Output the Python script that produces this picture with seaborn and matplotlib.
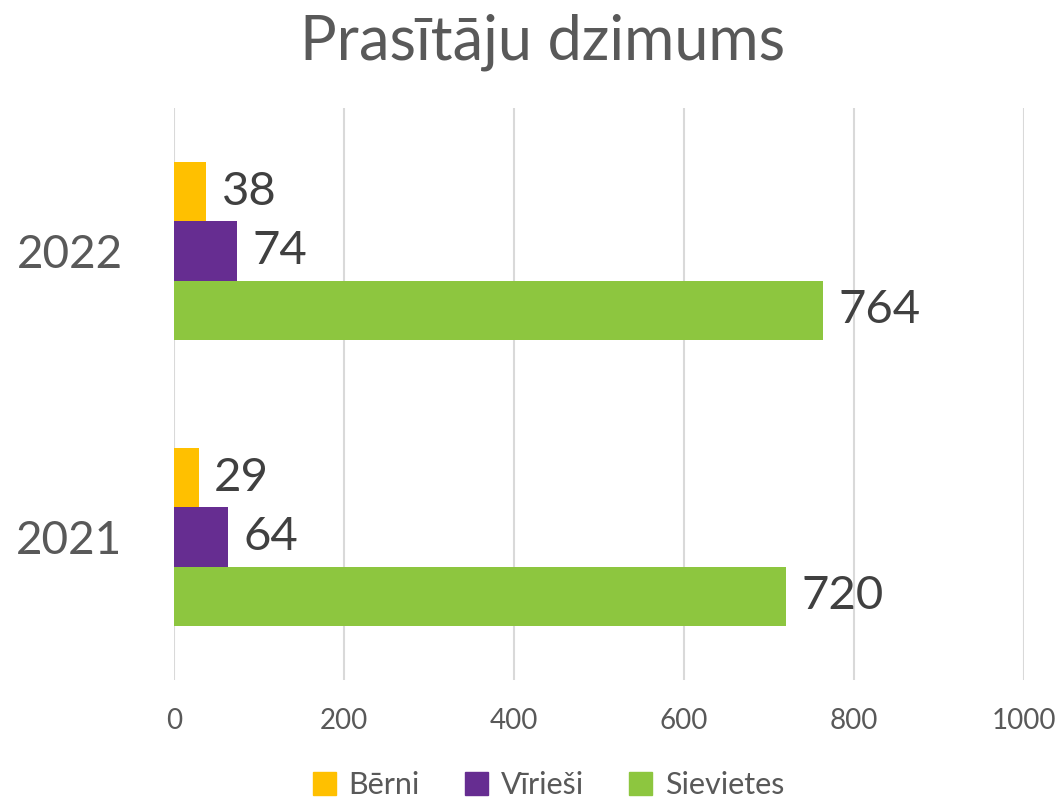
import matplotlib
matplotlib.use("Agg")
import matplotlib.pyplot as plt
import seaborn as sns
import pandas as pd

years = ["2022", "2021"]
groups = ["Bērni", "Vīrieši", "Sievietes"]
berni = [38, 29]
virieši = [74, 64]
sievietes = [764, 720]
x_ticks = [0, 200, 400, 600, 800, 1000]
colors = ["#FFC000", "#662D91", "#8DC63F"]

df = pd.DataFrame({
    "year": years * 3,
    "group": [groups[0]] * 2 + [groups[1]] * 2 + [groups[2]] * 2,
    "value": berni + virieši + sievietes,
})

sns.set_theme(style="white")
plt.rcParams["font.family"] = ["Lato", "DejaVu Sans"]

fig = plt.figure(figsize=(10.61, 8.01), dpi=100)
ax = fig.add_axes([174 / 1061, 1 - 680 / 801, 850 / 1061, 572 / 801])

sns.barplot(data=df, y="year", x="value", hue="group", order=years,
            hue_order=groups, palette=colors, orient="h", width=0.62,
            saturation=1, ax=ax, legend=True, linewidth=0, edgecolor="none")

ax.set_xlim(0, 1000)
ax.set_xticks(x_ticks)
ax.set_xticklabels([str(v) for v in x_ticks], fontsize=20, color="#595959")
ax.tick_params(axis="x", length=0, pad=20)
ax.tick_params(axis="y", length=0, pad=37, labelsize=33, labelcolor="#595959")
ax.set_xlabel("")
ax.set_ylabel("")
ax.grid(axis="x", color="#D9D9D9", linewidth=1.5)
ax.set_axisbelow(True)
for s in ax.spines.values():
    s.set_visible(False)

for cont in ax.containers:
    ax.bar_label(cont, fmt="%d", padding=11, fontsize=34, color="#404040")

ax.get_legend().remove()
handles = [plt.Rectangle((0, 0), 1, 1, color=c) for c in colors]
fig.legend(handles, groups, loc="center", bbox_to_anchor=(0.517, 0.02), ncol=3,
           frameon=False, fontsize=22, labelcolor="#595959", handlelength=0.75,
           handleheight=0.75, handletextpad=0.4, columnspacing=1.5)

fig.suptitle("Prasītāju dzimums", x=0.511, y=0.947, va="center", fontsize=44, color="#595959")

fig.savefig("out.png", dpi=100)
